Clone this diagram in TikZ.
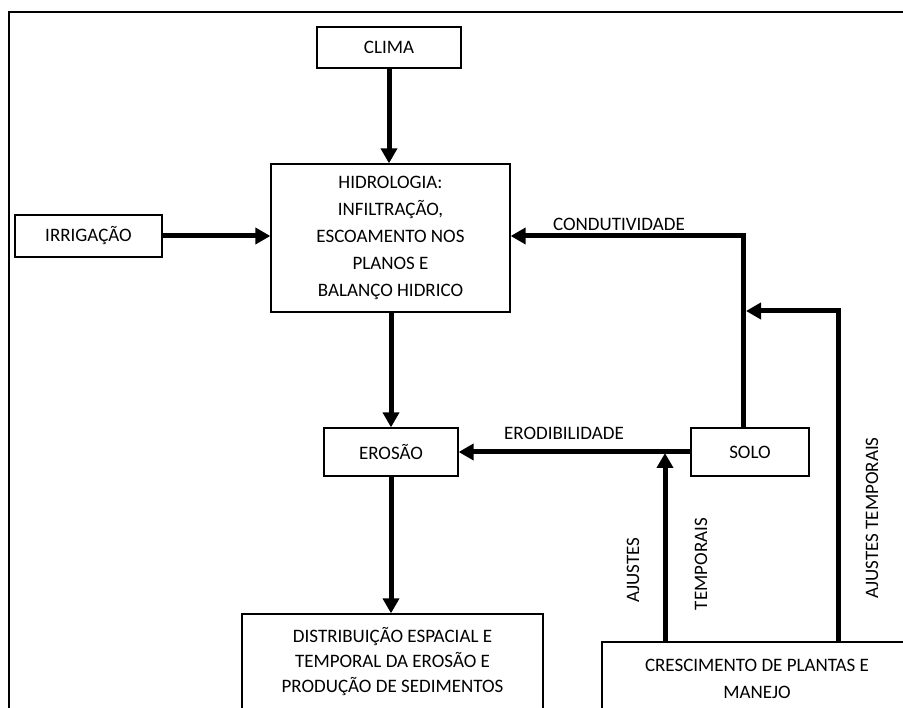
\documentclass[tikz,border=0pt]{standalone}
\usepackage{fontspec}
\setmainfont{Carlito}
\usetikzlibrary{arrows.meta}
\begin{document}
\begin{tikzpicture}[x=1pt,y=-1pt,
  box/.style={draw, line width=1.3pt, inner sep=0pt, align=center, font=\fontsize{19}{27}\selectfont},
  flow/.style={line width=5pt, -{Triangle[length=15pt,width=16pt]}},
  lbl/.style={inner sep=0pt, font=\fontsize{19}{23}\selectfont}]
\clip (0,0) rectangle (903,708);
\fill[white] (0,0) rectangle (903,708);
\draw[line width=1.3pt] (9,730) -- (9,12) -- (920,12);
% boxes
\node[box, minimum width=144pt, minimum height=41pt] (clima) at (389,47.5) {CLIMA};
\node[box, minimum width=239pt, minimum height=148pt] (hidro) at (390.5,238) {HIDROLOGIA:\\INFILTRAÇÃO,\\ESCOAMENTO NOS\\PLANOS E\\BALANÇO HIDRICO};
\node[box, minimum width=147pt, minimum height=42pt] (irr) at (88.5,236) {IRRIGAÇÃO};
\node[box, minimum width=134pt, minimum height=48pt] (eros) at (391,452) {EROSÃO};
\node[box, minimum width=118pt, minimum height=48pt] (solo) at (750,452) {SOLO};
\node[box, minimum width=301pt, minimum height=96pt, font=\fontsize{19}{25}\selectfont] (dist) at (392.5,662) {DISTRIBUIÇÃO ESPACIAL E\\TEMPORAL DA EROSÃO E\\PRODUÇÃO DE SEDIMENTOS};
\node[box, minimum width=310pt, minimum height=73pt] (cresc) at (757,678.5) {CRESCIMENTO DE PLANTAS E\\MANEJO};
% connectors
\draw[flow] (clima.south) -- (clima.south |- hidro.north);
\draw[flow] (irr.east) -- (irr.east -| hidro.west);
\draw[flow] (hidro.south -| eros.north) -- (eros.north);
\draw[flow] (eros.south) -- (eros.south |- dist.north);
\draw[flow] (solo.west) -- (eros.east);
\coordinate (c1) at (743,236);
\draw[flow] (solo.north -| c1) -- (c1) -- (c1 -| hidro.east);
\coordinate (c2) at (838,311);
\coordinate (c2end) at (746,311);
\draw[flow] (cresc.north -| c2) -- (c2) -- (c2end);
\coordinate (j) at (665,453);
\draw[flow] (cresc.north -| j) -- (j);
% labels
\node[lbl] (lcond) at (619,224) {CONDUTIVIDADE};
\node[lbl] (lerod) at (564,433) {ERODIBILIDADE};
\node[lbl, rotate=90] (laj) at (633,570) {AJUSTES};
\node[lbl, rotate=90] (ltemp) at (701,564) {TEMPORAIS};
\node[lbl, rotate=90] (laj2) at (872,518) {AJUSTES TEMPORAIS};
\end{tikzpicture}
\end{document}
